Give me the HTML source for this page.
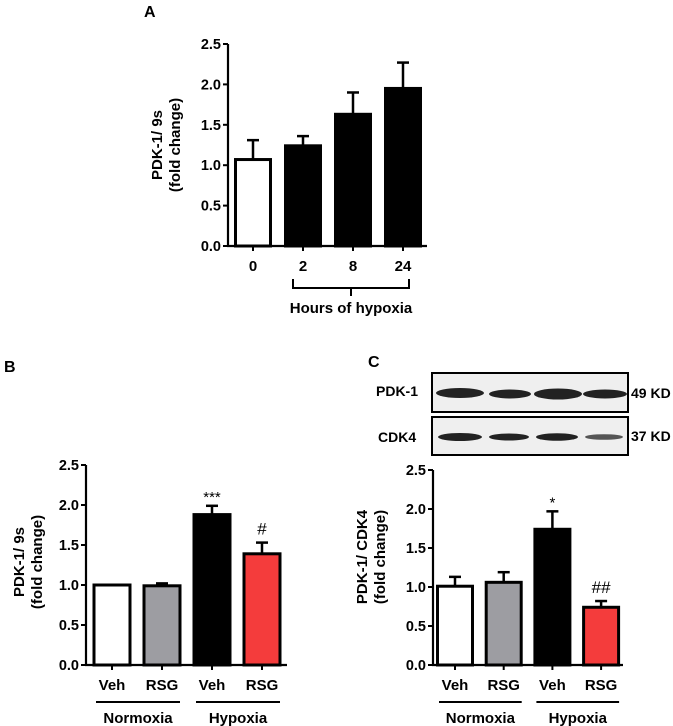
<!DOCTYPE html>
<html><head><meta charset="utf-8"><style>
body{margin:0;background:#fff}
svg{display:block;font-family:"Liberation Sans",Arial,sans-serif;font-weight:bold}
</style></head><body>
<svg id="fig" width="673" height="726" viewBox="0 0 673 726" xmlns="http://www.w3.org/2000/svg">
  <text x="144" y="17" font-size="16">A</text>
  <text x="4" y="372" font-size="16">B</text>
  <text x="368" y="367" font-size="16">C</text>
  <g>
    <rect x="432" y="373" width="196" height="39" fill="#efefef" stroke="#000" stroke-width="2"/>
    <rect x="432" y="417" width="196" height="38" fill="#efefef" stroke="#000" stroke-width="2"/>
    <g fill="#222">
      <ellipse cx="460" cy="393" rx="24" ry="5"/><ellipse cx="510" cy="394" rx="21" ry="4.5"/>
      <ellipse cx="558" cy="394" rx="24" ry="5.5"/><ellipse cx="605" cy="394" rx="22" ry="4.5"/>
      <ellipse cx="460" cy="437" rx="22" ry="4"/><ellipse cx="509" cy="437" rx="20" ry="3.5"/>
      <ellipse cx="557" cy="437" rx="21" ry="3.8"/><ellipse cx="604" cy="437" rx="19" ry="2.8" fill="#555"/>
    </g>
    <text x="376" y="396" font-size="14">PDK-1</text>
    <text x="378" y="442" font-size="14">CDK4</text>
    <text x="631" y="398" font-size="14">49 KD</text>
    <text x="631" y="441" font-size="14">37 KD</text>
  </g>
</svg>
<script>
const yTicks = [0, 0.5, 1.0, 1.5, 2.0, 2.5];
const tickLabels = ["0.0","0.5","1.0","1.5","2.0","2.5"];
const catsA = ["0","2","8","24"];
const meanA = [1.07, 1.24, 1.63, 1.95];
const errA = [0.24, 0.12, 0.27, 0.32];
const catsB = ["Veh","RSG","Veh","RSG"];
const meanB = [1.0, 0.99, 1.88, 1.39];
const errB = [0, 0.03, 0.11, 0.14];
const sigB = ["", "", "***", "#"];
const catsC = ["Veh","RSG","Veh","RSG"];
const meanC = [1.01, 1.06, 1.74, 0.74];
const errC = [0.12, 0.13, 0.23, 0.08];
const sigC = ["", "", "*", "##"];
const fills = ["#fff","#9d9da2","#000","#f43c3c"];
const fillsA = ["#fff","#000","#000","#000"];

const svg = document.getElementById('fig');
const NS = "http://www.w3.org/2000/svg";
function mk(tag, attrs, parent){
  const e = document.createElementNS(NS, tag);
  for (const k in attrs) e.setAttribute(k, attrs[k]);
  (parent||svg).appendChild(e); return e;
}
function panel(p, cats, means, errs, cols, sig, name){
  const g = mk('g', {});
  
  
  const y = v => p.y0 - (v / 2.5) * (p.y0 - p.y25);
  const xc = i => p.x0 + p.first + i * p.step;
  const ya = mk('line', {x1:p.ax, y1:p.y25, x2:p.ax, y2:p.y0+1, stroke:'#000','stroke-width':2.2}, g);
  
  
  const xa = mk('line', {x1:p.ax-1, y1:p.y0, x2:p.xend, y2:p.y0, stroke:'#000','stroke-width':2.2}, g);
  
  
  yTicks.forEach((t, i) => {
    mk('line', {x1:p.ax-5, y1:y(t), x2:p.ax, y2:y(t), stroke:'#000','stroke-width':2}, g);
    const tl = mk('text', {x:p.ax-7, y:y(t)+5, 'font-size':14.5, 'text-anchor':'end'}, g);
    tl.textContent = tickLabels[i];
    
    
  });
  cats.forEach((c, i) => {
    const cx = xc(i), w = p.bw;
    if (errs[i] > 0) {
      mk('line', {x1:cx, y1:y(means[i]), x2:cx, y2:y(means[i]+errs[i]), stroke:'#000','stroke-width':2.5}, g);
      mk('line', {x1:cx-6, y1:y(means[i]+errs[i]), x2:cx+6, y2:y(means[i]+errs[i]), stroke:'#000','stroke-width':2.5}, g);
    }
    const b = mk('rect', {x:cx-w/2, y:y(means[i]), width:w, height:p.y0-y(means[i]), fill:cols[i], stroke:'#000','stroke-width':3}, g);
    
    
    mk('line', {x1:cx, y1:p.y0, x2:cx, y2:p.y0+5, stroke:'#000','stroke-width':2}, g);
    const t = mk('text', {x:cx, y:p.y0+25, 'font-size':15, 'text-anchor':'middle'}, g);
    t.textContent = c;
    
    
    if (sig && sig[i]) {
      const star = sig[i][0]=='*';
      const s = mk('text', {x:cx, y:y(means[i]+errs[i]) - (star?4:8), 'font-size':star?15:17, 'font-weight':'normal', 'text-anchor':'middle'}, g);
      s.textContent = sig[i];
      
      
    }
  });
  const lx1 = p.lab1, lx2 = p.lab2, ly = p.laby;
  const l1 = mk('text', {x:lx1, y:ly, 'font-size':15, 'text-anchor':'middle', transform:`rotate(-90 ${lx1} ${ly})`}, g);
  l1.textContent = p.ylab1;
  
  
  const l2 = mk('text', {x:lx2, y:ly, 'font-size':15, 'text-anchor':'middle', transform:`rotate(-90 ${lx2} ${ly})`}, g);
  l2.textContent = "(fold change)";
  
  
  return {g, xc};
}
const A = panel({ax:228, x0:228, first:25, step:50, bw:35, y0:246, y25:44, xend:427, lab1:162, lab2:180, laby:145, ylab1:"PDK-1/ 9s"}, catsA, meanA, errA, fillsA, null, 'panel-a-chart');
mk('path', {d:'M293 279 V288 H409 V279 M351 288 V296', fill:'none', stroke:'#000','stroke-width':2}, A.g);
const ht = mk('text', {x:351, y:313, 'font-size':15, 'text-anchor':'middle'}, A.g);
ht.textContent = "Hours of hypoxia";



function groups(P, g, y){
  [["Normoxia",0],["Hypoxia",2]].forEach(([lab, i]) => {
    const a = P.xc(i)-16, b = P.xc(i+1)+18;
    mk('line', {x1:a, y1:y, x2:b, y2:y, stroke:'#000','stroke-width':2}, g);
    const t = mk('text', {x:(a+b)/2, y:y+21, 'font-size':15, 'text-anchor':'middle'}, g);
    t.textContent = lab;
    
    
  });
}
const B = panel({ax:86, x0:86, first:26, step:50, bw:36, y0:665, y25:465, xend:287, lab1:24, lab2:42, laby:562, ylab1:"PDK-1/ 9s"}, catsB, meanB, errB, fills, sigB, 'panel-b-chart');
groups(B, B.g, 702);
const C = panel({ax:433, x0:433, first:22, step:48.7, bw:35, y0:665, y25:470, xend:623, lab1:367, lab2:385, laby:557, ylab1:"PDK-1/ CDK4"}, catsC, meanC, errC, fills, sigC, 'panel-c-chart');
groups(C, C.g, 702);
</script>
</body></html>
